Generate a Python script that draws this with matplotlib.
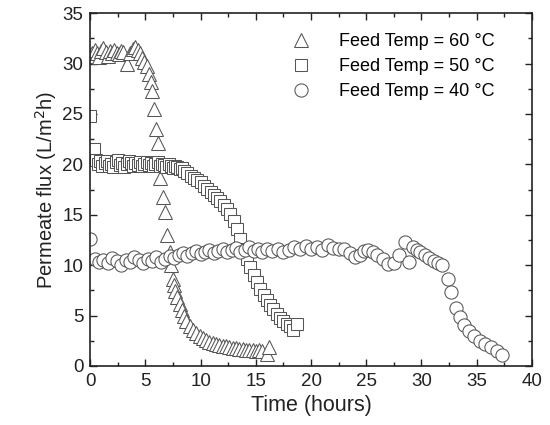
import matplotlib
matplotlib.use('Agg')
import matplotlib.pyplot as plt
from matplotlib.ticker import MultipleLocator

plt.rcParams['font.family'] = ['Liberation Sans', 'DejaVu Sans']

# Feed temp 60 C
t60 = [0.0, 0.2, 0.4, 0.6, 0.8, 1.0, 1.2, 1.4, 1.6, 1.8, 2.0, 2.2, 2.4, 2.6, 2.8, 3.0,
       3.3, 3.6, 3.9, 4.1, 4.3, 4.5, 4.7, 4.9, 5.1, 5.3, 5.5, 5.6, 5.8, 6.0, 6.1, 6.2,
       6.3, 6.6, 6.8, 7.0, 7.2, 7.3, 7.5, 7.6, 7.7, 7.9, 8.1, 8.3, 8.5, 8.7, 9.0, 9.3,
       9.6, 9.9, 10.2, 10.5, 10.8, 11.1, 11.4, 11.7, 12.0, 12.3, 12.6, 12.9, 13.2, 13.5,
       13.8, 14.1, 14.4, 14.7, 15.0, 15.3, 15.6, 16.0, 16.2]
f60 = [30.8, 31.0, 31.3, 31.0, 30.7, 31.2, 31.5, 31.1, 30.8, 31.2, 31.0, 31.3, 31.0, 30.9, 31.2, 31.1,
       30.0, 31.0, 31.4, 31.6, 31.3, 31.0, 30.6, 30.2, 29.8, 29.0, 28.2, 27.3, 25.5, 23.5, 22.1, 20.0,
       18.6, 16.8, 15.3, 13.0, 11.3, 10.0, 8.6, 8.0, 7.4, 6.8, 6.1, 5.5, 5.0, 4.5, 4.0, 3.6,
       3.3, 3.0, 2.8, 2.6, 2.4, 2.3, 2.2, 2.1, 2.0, 2.0, 1.9, 1.8, 1.8, 1.7,
       1.7, 1.6, 1.6, 1.6, 1.5, 1.6, 1.5, 1.2, 1.9]

# Feed temp 50 C
t50 = [0.0, 0.3, 0.5, 0.7, 0.9, 1.1, 1.3, 1.5, 1.7, 1.9, 2.1, 2.3, 2.5, 2.7, 2.9, 3.1,
       3.3, 3.5, 3.7, 3.9, 4.1, 4.3, 4.5, 4.7, 4.9, 5.1, 5.3, 5.5, 5.7, 5.9, 6.1, 6.3,
       6.5, 6.7, 6.9, 7.1, 7.3, 7.5, 7.7, 7.9, 8.1, 8.3, 8.5, 8.8, 9.1, 9.4, 9.7, 10.0,
       10.3, 10.6, 10.9, 11.2, 11.5, 11.8, 12.1, 12.4, 12.7, 13.0, 13.3, 13.6, 13.9, 14.2,
       14.5, 14.8, 15.1, 15.4, 15.7, 16.0, 16.3, 16.6, 16.9, 17.2, 17.5, 17.8, 18.1, 18.4, 18.7]
f50 = [24.8, 21.5, 20.4, 20.0, 20.3, 19.8, 20.1, 20.3, 19.8, 20.0, 19.7, 20.2, 20.4, 19.9, 20.1, 19.7,
       20.0, 20.3, 20.1, 19.8, 20.1, 19.9, 20.2, 19.8, 20.0, 20.2, 19.9, 20.1, 19.8, 20.0, 20.2, 19.8,
       20.0, 19.9, 19.7, 20.0, 19.8, 19.6, 19.8, 19.7, 19.5, 19.6, 19.3, 19.1, 18.8, 18.6, 18.4, 18.2,
       17.9, 17.6, 17.3, 17.0, 16.7, 16.4, 16.0, 15.6, 15.1, 14.4, 13.6, 12.6, 11.6, 10.6,
       9.8, 9.0, 8.3, 7.6, 7.0, 6.5, 6.0, 5.6, 5.2, 4.8, 4.5, 4.2, 4.0, 3.6, 4.2]

# Feed temp 40 C
t40 = [0.0, 0.4, 0.8, 1.2, 1.6, 2.0, 2.4, 2.8, 3.2, 3.6, 4.0, 4.4, 4.8, 5.2, 5.6, 6.0,
       6.4, 6.8, 7.2, 7.6, 8.0, 8.4, 8.8, 9.2, 9.6, 10.0, 10.4, 10.8, 11.2, 11.6, 12.0, 12.4,
       12.8, 13.2, 13.6, 14.0, 14.4, 14.8, 15.2, 15.6, 16.0, 16.5, 17.0, 17.5, 18.0, 18.5,
       19.0, 19.5, 20.0, 20.5, 21.0, 21.5, 22.0, 22.5, 23.0, 23.5, 24.0, 24.4, 24.8, 25.2,
       25.6, 26.0, 26.5, 27.0, 27.5, 28.0, 28.5, 28.9, 29.2, 29.6, 29.9, 30.3, 30.7, 31.1,
       31.5, 31.9, 32.4, 32.7, 33.1, 33.5, 33.9, 34.3, 34.8, 35.3, 35.8, 36.3, 36.8, 37.3]
f40 = [12.6, 10.6, 10.3, 10.5, 10.2, 10.7, 10.4, 10.0, 10.5, 10.3, 10.8, 10.5, 10.2, 10.6, 10.4, 10.8,
       10.3, 10.6, 10.9, 10.7, 11.0, 11.2, 10.9, 11.2, 11.4, 11.1, 11.3, 11.5, 11.2, 11.4, 11.6, 11.3,
       11.5, 11.7, 11.3, 11.5, 11.8, 11.4, 11.6, 11.3, 11.6, 11.4, 11.6, 11.3, 11.5, 11.8,
       11.6, 11.9, 11.6, 11.8, 11.5, 12.0, 11.7, 11.6, 11.6, 11.2, 10.8, 11.0, 11.4, 11.5,
       11.3, 11.0, 10.6, 10.1, 10.2, 11.0, 12.3, 10.3, 11.8, 11.5, 11.3, 11.0, 10.7, 10.4,
       10.2, 10.0, 8.6, 7.3, 5.7, 4.9, 4.1, 3.5, 3.0, 2.5, 2.2, 1.9, 1.5, 1.1]

labels = ['Feed Temp = 60 \u00b0C', 'Feed Temp = 50 \u00b0C', 'Feed Temp = 40 \u00b0C']

fig = plt.figure(figsize=(5.5, 4.25), dpi=100)
ax = fig.add_axes([0.164, 0.139, 0.803, 0.830])

edge = '#555555'
ax.plot(t60, f60, '^', ms=10, mfc='white', mec=edge, mew=0.75, ls='none', label=labels[0])
ax.plot(t50, f50, 's', ms=9, mfc='white', mec=edge, mew=0.75, ls='none', label=labels[1])
ax.plot(t40, f40, 'o', ms=9.5, mfc='white', mec=edge, mew=0.75, ls='none', label=labels[2])

ax.set_xlim(0, 40)
ax.set_ylim(0, 35)
ax.xaxis.set_major_locator(MultipleLocator(5))
ax.xaxis.set_minor_locator(MultipleLocator(2.5))
ax.yaxis.set_major_locator(MultipleLocator(5))
ax.yaxis.set_minor_locator(MultipleLocator(2.5))
ax.tick_params(which='both', direction='in', top=True, right=True, labelsize=13.5, colors='#222222')
ax.tick_params(which='major', length=5, width=1, pad=5)
ax.tick_params(which='minor', length=3, width=1)
for s in ax.spines.values():
    s.set_linewidth(1.2)
    s.set_color('#222222')

ax.set_xlabel('Time (hours)', fontsize=15.5, color='#222222', labelpad=4)
ax.set_ylabel('Permeate flux (L/m$^2$h)', fontsize=14.5, color='#222222', labelpad=2)

ax.legend(loc='upper left', bbox_to_anchor=(0.4, 0.99), frameon=False, fontsize=13,
          handletextpad=1.1, labelspacing=0.45)

fig.savefig('out.png', dpi=100)
